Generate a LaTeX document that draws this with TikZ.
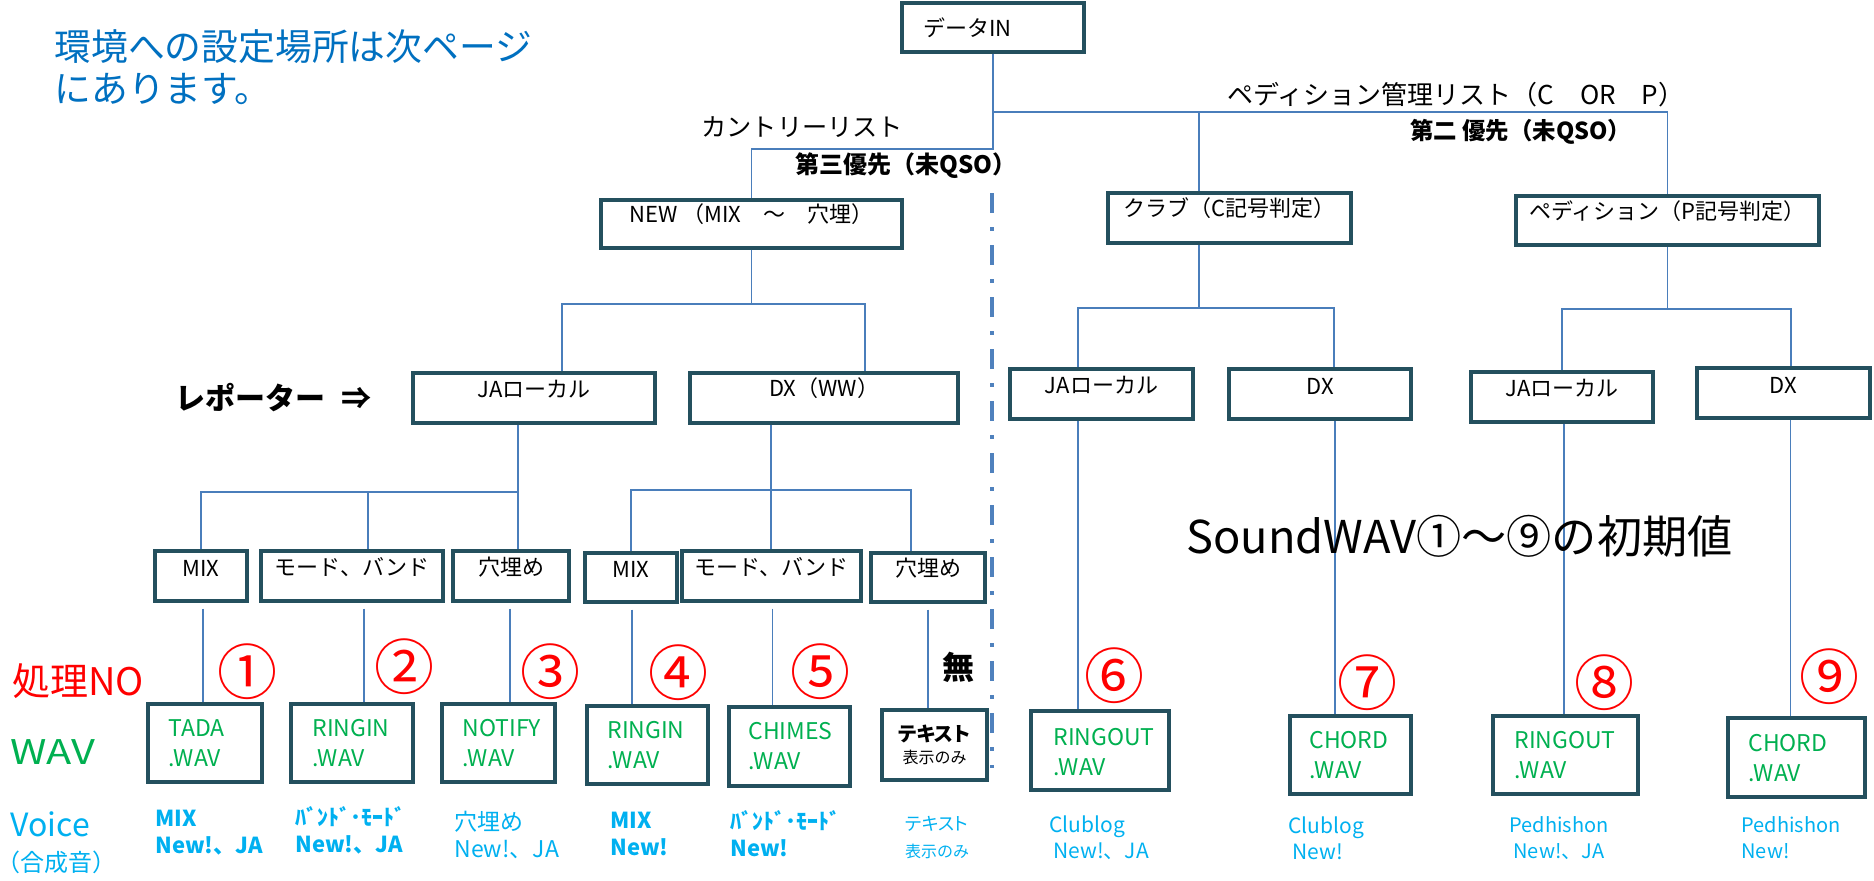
\documentclass[tikz,border=0pt]{standalone}
\usepackage{fontspec}
\usepackage{graphicx}
\setmainfont{Noto Sans CJK JP}
\newfontfamily\pk{Noto Sans CJK JP}[RawFeature=+palt]
\usetikzlibrary{fit,calc}
\definecolor{boxc}{RGB}{36,80,94}
\definecolor{linec}{RGB}{74,126,187}
\definecolor{dashc}{RGB}{79,129,189}
\definecolor{topblue}{RGB}{0,112,192}
\definecolor{nred}{RGB}{255,0,0}
\definecolor{wgreen}{RGB}{0,176,80}
\definecolor{vcyan}{RGB}{0,176,240}
\begin{document}
\begin{tikzpicture}[x=0.5pt,y=-0.5pt,
  box/.style={draw=boxc, line width=1.7pt, inner sep=0pt, fill=white},
  conn/.style={draw=linec, line width=0.9pt},
  bt/.style={font=\fontsize{11}{13}\selectfont},
  lbl/.style={inner sep=0pt, anchor=west},
  num/.style={text=nred, inner sep=0pt, font=\fontsize{30}{32}\selectfont},
  wt/.style={text=wgreen, inner sep=0pt, anchor=west, align=left, font=\fontsize{11.5}{15}\selectfont},
  vl/.style={text=vcyan, inner sep=0pt, anchor=west, align=left, font=\fontsize{11}{13.5}\selectfont},
  vb/.style={vl, font=\fontsize{11}{13.5}\selectfont\bfseries}]
\useasboundingbox (0,0) rectangle (1874,880);

% top note
\node[lbl, text=topblue, font=\fontsize{18.4}{20}\selectfont] (note1) at (54,47) {環境への設定場所は次ページ};
\node[lbl, text=topblue, font=\fontsize{18.4}{20}\selectfont] (note2) at (54,89) {にあります。};

% level 0 / 1 boxes
\node[box, fit={(902,3)(1084,52)}] (data) {};
\node[lbl, bt] (datat) at (923,28) {データIN};
\node[box, bt, fit={(601,200)(902,248)}] (new) {NEW （MIX　～　穴埋）};
\node[box, bt, fit={(1108,193)(1351,243)}] (club) {クラブ（C記号判定）};
\node[box, bt, fit={(1516,196)(1819,245)}] (ped) {ペディション（P記号判定）};

% level 2 boxes
\node[box, bt, fit={(413,373)(655,423)}] (ja) {JAローカル};
\node[box, bt, fit={(690,373)(958,423)}] (dx) {DX（WW）};
\node[box, bt, fit={(1010,369)(1193,419)}] (cja) {JAローカル};
\node[box, bt, fit={(1229,369)(1411,419)}] (cdx) {DX};
\node[box, bt, fit={(1471,372)(1653,422)}] (pja) {JAローカル};
\node[box, bt, fit={(1697,368)(1870,418)}] (pdx) {DX};

% level 3 boxes
\node[box, bt, fit={(155,551)(247,601)}] (m1) {MIX};
\node[box, bt, fit={(261,551)(443,601)}] (b1) {モード、バンド};
\node[box, bt, fit={(453,551)(569,601)}] (a1) {穴埋め};
\node[box, bt, fit={(585,553)(677,602)}] (m2) {MIX};
\node[box, bt, fit={(682,551)(861,601)}] (b2) {モード、バンド};
\node[box, bt, fit={(871,553)(985,602)}] (a2) {穴埋め};

% WAV boxes
\node[box, fit={(148,704)(262,782)}] (w1) {};
\node[box, fit={(291,704)(413,782)}] (w2) {};
\node[box, fit={(442,704)(555,782)}] (w3) {};
\node[box, fit={(587,706)(708,784)}] (w4) {};
\node[box, fit={(729,707)(850,786)}] (w5) {};
\node[box, fit={(882,710)(987,780)}] (w6) {};
\node[box, fit={(1031,711)(1169,790)}] (w7) {};
\node[box, fit={(1290,716)(1411,794)}] (w8) {};
\node[box, fit={(1493,716)(1638,794)}] (w9) {};
\node[box, fit={(1728,718)(1865,797)}] (w10) {};

\node[wt] (w1t) at (168,743) {TADA\\.WAV};
\node[wt] (w2t) at (312,743) {RINGIN\\.WAV};
\node[wt] (w3t) at (462,743) {NOTIFY\\.WAV};
\node[wt] (w4t) at (607,745) {RINGIN\\.WAV};
\node[wt] (w5t) at (748,746) {CHIMES\\.WAV};
\node[inner sep=0pt, align=center] (w6t) at (w6.center) {{\pk\fontsize{10}{12}\selectfont\bfseries テキスト}\\[-1pt]{\fontsize{8}{10}\selectfont 表示のみ}};
\node[wt] (w7t) at (1053,752) {RINGOUT\\.WAV};
\node[wt] (w8t) at (1309,755) {CHORD\\.WAV};
\node[wt] (w9t) at (1514,755) {RINGOUT\\.WAV};
\node[wt] (w10t) at (1748,758) {CHORD\\.WAV};

% connectors
\coordinate (lv1) at (0,112);
\coordinate (lv2) at (0,149);
\draw[conn] (data.south) -- (data.south |- lv2) -| (new.north);
\draw[conn] (data.south |- lv1) -| (ped.north);
\coordinate (cj) at (1199,112);
\draw[conn] (cj) -- (cj |- club.north);

\coordinate (nj) at (562,304);
\coordinate (nd) at (865,304);
\draw[conn] (new.south) -- (new.south |- nj);
\draw[conn] (nj |- ja.north) -- (nj) -- (nd) -- (nd |- dx.north);

\coordinate (jb) at (518,492);
\coordinate (jb2) at (368,492);
\draw[conn] (jb |- ja.south) -- (jb);
\draw[conn] (m1.north) -- (m1.north |- jb) -- (jb) -- (jb |- a1.north);
\draw[conn] (jb2) -- (jb2 |- b1.north);

\coordinate (db) at (771,490);
\coordinate (db2) at (911,490);
\draw[conn] (db |- dx.south) -- (db |- b2.north);
\draw[conn] (m2.north) -- (m2.north |- db) -- (db2) -- (db2 |- a2.north);

\coordinate (cb) at (1199,308);
\coordinate (cb1) at (1078,308);
\coordinate (cb2) at (1334,308);
\draw[conn] (cb |- club.south) -- (cb);
\draw[conn] (cb1 |- cja.north) -- (cb1) -- (cb2) -- (cb2 |- cdx.north);

\coordinate (pb2) at (1791,309);
\draw[conn] (ped.south) -- (ped.south |- pb2);
\draw[conn] (pja.north) -- (pja.north |- pb2) -- (pb2) -- (pb2 |- pdx.north);

\foreach \s/\t/\dx in {m1/w1/2, b1/w2/12, a1/w3/-1, m2/w4/1, b2/w5/1, a2/w6/0} {
  \draw[conn, shorten <=3pt] ($(\s.south)+(\dx,0)$) coordinate (tmp) -- (tmp |- \t.north);
}
\draw[conn] (cb1 |- cja.south) -- (cb1 |- w7.north);
\draw[conn] ($(cdx.south)+(15,0)$) coordinate (tmp) -- (tmp |- w8.north);
\draw[conn] ($(pja.south)+(2,0)$) coordinate (tmp) -- (tmp |- w9.north);
\draw[conn] ($(pdx.south)+(7,0)$) coordinate (tmp) -- (tmp |- w10.north);

% dash-dot separator
\coordinate (sepT) at (992,193);
\coordinate (sepB) at (992,768);
\draw[dashc, line width=2pt, dash pattern=on 10pt off 7pt on 2pt off 7pt] (sepT) -- (sepB);

% labels
\node[lbl, font=\fontsize{12.6}{15}\selectfont] (country) at (701,127) {カントリーリスト};
\node[lbl, font=\fontsize{12}{14}\selectfont\bfseries] (prio3) at (795,166) {第三優先（未QSO）};
\node[lbl, font=\fontsize{13}{15}\selectfont] (pedlist) at (1227,95) {ペディション管理リスト（C　OR　P）};
\node[lbl, font=\fontsize{11.7}{14}\selectfont\bfseries] (prio2) at (1410,132) {第二 優先（未QSO）};
\node[lbl, font=\fontsize{15}{17}\selectfont\bfseries] (rep) at (175,398) {レポーター\hspace{8pt}⇒};
\node[lbl, font=\fontsize{22.6}{24}\selectfont] (sw) at (1186,536) {SoundWAV①～⑨の初期値};

\node[lbl, text=nred, font=\fontsize{19}{21}\selectfont] (shori) at (12,681) {処理NO};
\node[lbl, text=wgreen, font=\fontsize{17}{19}\selectfont] (wavl) at (10,752) {\scalebox{1.22}[1]{WAV}};
\node[lbl, text=vcyan, font=\fontsize{16}{18}\selectfont] (voice) at (10,824) {Voice};
\node[lbl, text=vcyan, font=\fontsize{12}{14}\selectfont] (gosei) at (-4,862) {（合成音）};

\node[num] (n1) at (247,672) {①};
\node[num] (n2) at (404,667) {②};
\node[num] (n3) at (550,672) {③};
\node[num] (n4) at (678,673) {④};
\node[num] (n5) at (820,672) {⑤};
\node[num] (n6) at (1114,676) {⑥};
\node[num] (n7) at (1367,683) {⑦};
\node[num] (n8) at (1604,683) {⑧};
\node[num] (n9) at (1829,677) {⑨};
\node[inner sep=0pt, font=\fontsize{16}{18}\selectfont\bfseries] (mu) at (958,667) {無};

% voice labels
\node[vb] (v1) at (155,833) {MIX\\New!、JA};
\node[vb] (v2) at (295,830) {{\fontsize{11}{12}\selectfont ﾊﾞﾝﾄﾞ･ﾓｰﾄﾞ}\\New!、JA};
\node[vl, font=\fontsize{11.5}{13.5}\selectfont] (v3) at (454,835) {穴埋め\\New!、JA};
\node[vb] (v4) at (610,834) {MIX\\New!};
\node[vb] (v5) at (730,834) {{\fontsize{11}{12}\selectfont ﾊﾞﾝﾄﾞ･ﾓｰﾄﾞ}\\New!};
\node[vl, anchor=center, align=center] (v6) at (937,838) {{\pk\fontsize{9}{11}\selectfont テキスト}\\{\fontsize{8}{10}\selectfont 表示のみ}};
\node[vl, font=\fontsize{10.5}{13}\selectfont] (v7) at (1049,838) {Clublog\\\hspace{2pt}New!、JA};
\node[vl, font=\fontsize{10.5}{13}\selectfont] (v8) at (1288,838) {Clublog\\\hspace{2pt}New!};
\node[vl, font=\fontsize{10}{13}\selectfont] (v9) at (1509,838) {Pedhishon\\\hspace{2pt}New!、JA};
\node[vl, font=\fontsize{10}{13}\selectfont] (v10) at (1741,838) {Pedhishon\\New!};
\end{tikzpicture}
\end{document}
